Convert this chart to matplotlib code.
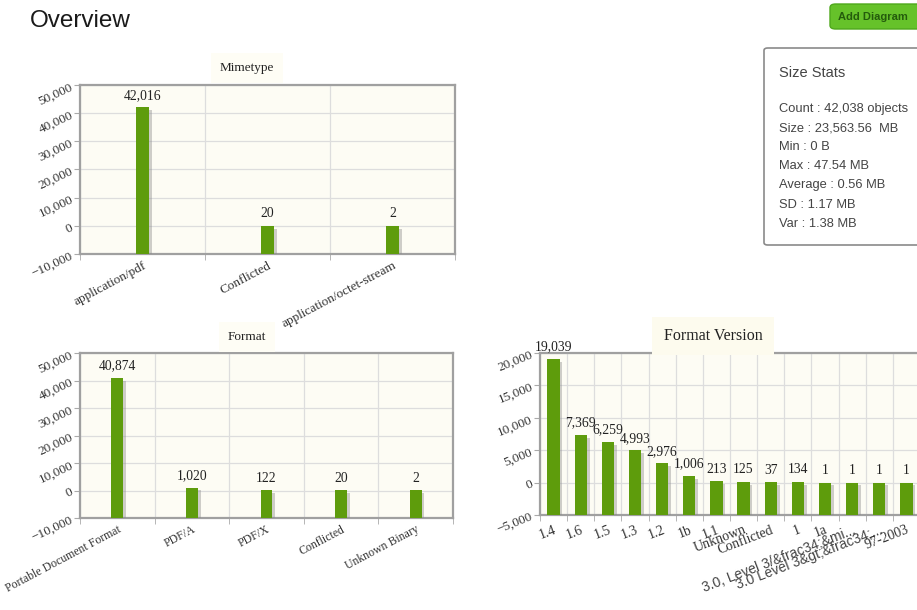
import matplotlib
matplotlib.use("Agg")
import matplotlib.pyplot as plt
import matplotlib.patheffects as pe
import matplotlib.transforms as mtransforms
from matplotlib.patches import FancyBboxPatch
from matplotlib.ticker import FuncFormatter, MultipleLocator
import numpy as np

# ---- data ----
mime_cats = ["application/pdf", "Conflicted", "application/octet-stream"]
mime_vals = [42016, 20, 2]

format_cats = ["Portable Document Format", "PDF/A", "PDF/X", "Conflicted", "Unknown Binary"]
format_vals = [40874, 1020, 122, 20, 2]

version_cats = ["1.4", "1.6", "1.5", "1.3", "1.2", "1b", "1.1", "Unknown", "Conflicted",
                "1", "1a", "3.0, Level 3/&frac34;&mi...", "3.0 Level 3&gt;&frac34;...", "97-2003"]
version_vals = [19039, 7369, 6259, 4993, 2976, 1006, 213, 125, 37, 134, 1, 1, 1, 1]

stats_lines = ["Count : 42,038 objects", "Size : 23,563.56  MB", "Min : 0 B", "Max : 47.54 MB",
               "Average : 0.56 MB", "SD : 1.17 MB", "Var : 1.38 MB"]

W, H = 917, 610
fig = plt.figure(figsize=(W / 100, H / 100), dpi=100)
fig.patch.set_facecolor("white")

SERIF = ["Liberation Serif", "DejaVu Serif"]
SANS = ["Liberation Sans", "DejaVu Sans"]
BAR = "#5e9c0c"
BG = "#fdfcf4"


def rect(l, t, r, b):
    return [l / W, 1 - b / H, (r - l) / W, (b - t) / H]


def fmt(v, pos=None):
    s = f"{abs(v):,.0f}"
    return ("\u2212" + s) if v < 0 else s


def draw_chart(box, cats, vals, ymin, ymax, step, width, title, title_xy, title_size,
               xrot, yrot, xsize=9.5, ysize=9.5, xshift=8, sans_long=False, title_bg="#fefdf5",
               xpad=4):
    ax = fig.add_axes(rect(*box))
    ax.set_facecolor(BG)
    n = len(cats)
    x = np.arange(n)
    heights = [v - ymin for v in vals]
    bars = ax.bar(x, heights, bottom=ymin, width=width, color=BAR, zorder=3)
    for b in bars:
        b.set_path_effects([pe.SimplePatchShadow(offset=(2, -2), shadow_rgbFace="#888888", alpha=0.4),
                            pe.Normal()])
    ax.set_xlim(-0.5, n - 0.5)
    ax.set_ylim(ymin, ymax)
    ax.yaxis.set_major_locator(MultipleLocator(step))
    ax.yaxis.set_major_formatter(FuncFormatter(fmt))
    ax.set_xticks(x)
    ax.set_xticks(np.arange(n + 1) - 0.5, minor=True)
    ax.set_xticklabels(cats, rotation=xrot, ha="right", rotation_mode="anchor",
                       fontfamily=SERIF, fontsize=xsize, color="#333333")
    shift = mtransforms.ScaledTranslation(xshift / 100, 0, fig.dpi_scale_trans)
    for lab in ax.get_xticklabels():
        lab.set_transform(lab.get_transform() + shift)
        if sans_long and len(lab.get_text()) > 12:
            lab.set_fontfamily(SANS)
            lab.set_fontsize(xsize)
            lab.set_color("#444444")
    ax.tick_params(axis="x", which="major", length=0, pad=xpad)
    ax.tick_params(axis="x", which="minor", length=4, color="#aaaaaa")
    ax.tick_params(axis="y", length=4, color="#aaaaaa", pad=2)
    for lab in ax.get_yticklabels():
        lab.set_rotation(yrot)
        lab.set_fontfamily(SERIF)
        lab.set_fontsize(ysize)
        lab.set_color("#333333")
        lab.set_ha("right")
        lab.set_rotation_mode("anchor")
    ax.grid(True, axis="y", which="major", color="#dddddd", lw=0.9, zorder=0)
    ax.grid(True, axis="x", which="minor", color="#dddddd", lw=0.9, zorder=0)
    ax.set_axisbelow(True)
    for s in ax.spines.values():
        s.set_color("#a0a0a0")
        s.set_linewidth(1.6)
    for xi, v in zip(x, vals):
        ax.annotate(f"{v:,}", (xi, v), xytext=(0, 4), textcoords="offset points",
                    ha="center", va="bottom", fontfamily=SERIF, fontsize=9.8, color="#222222",
                    zorder=5)
    fig.text(title_xy[0] / W, 1 - title_xy[1] / H, title, ha="center", va="center",
             fontfamily=SERIF, fontsize=title_size, color="#222222",
             bbox=dict(boxstyle="square,pad=0.7", facecolor=title_bg, edgecolor="none"))
    return ax


draw_chart((80, 85, 455, 254), mime_cats, mime_vals, -10000, 50000, 10000, 0.1,
           "Mimetype", (247, 68), 9.5, 28, 25, xsize=9.5, xshift=11)
draw_chart((80, 353, 453, 518), format_cats, format_vals, -10000, 50000, 10000, 0.16,
           "Format", (247, 337), 9.5, 28, 25, xsize=8.5, xshift=11)
draw_chart((540, 353, 920, 515), version_cats, version_vals, -5000, 20000, 5000, 0.45,
           "Format Version", (713, 336), 11.5, 21, 22, xsize=10, xshift=4, sans_long=True,
           title_bg="#fdfbee", xpad=6)

# ---- header ----
fig.text(30 / W, 1 - 21 / H, "Overview", ha="left", va="center",
         fontfamily=SANS, fontsize=17.5, color="#1a1a1a")

# Add Diagram button
btn = FancyBboxPatch((830 / W, 1 - 29 / H), 100 / W, 25 / H,
                     boxstyle="round,pad=0,rounding_size=0.006",
                     transform=fig.transFigure, facecolor="#66c22a", edgecolor="#4fa81c",
                     lw=1.0, zorder=2)
fig.patches.append(btn)
fig.text(873 / W, 1 - 17 / H, "Add Diagram", ha="center", va="center",
         fontfamily=SANS, fontsize=8, fontweight="bold", color="#245c0c", zorder=3)

# Size Stats box
sbox = FancyBboxPatch((764 / W, 1 - 245 / H), 170 / W, 197 / H,
                      boxstyle="round,pad=0,rounding_size=0.004",
                      transform=fig.transFigure, facecolor="white", edgecolor="#8a8a8a",
                      lw=1.2, zorder=2)
fig.patches.append(sbox)
fig.text(779 / W, 1 - 73 / H, "Size Stats", ha="left", va="center",
         fontfamily=SANS, fontsize=10.5, color="#444444", zorder=3)
for i, line in enumerate(stats_lines):
    fig.text(779 / W, 1 - (109 + i * 19.1) / H, line, ha="left", va="center",
             fontfamily=SANS, fontsize=9.3, color="#444444", zorder=3)

fig.savefig("out.png", dpi=100, facecolor="white")
